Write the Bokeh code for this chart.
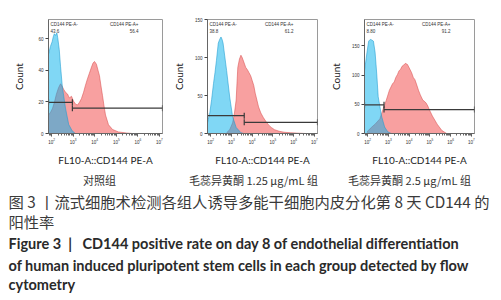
import numpy as np
from bokeh.plotting import figure
from bokeh.layouts import row, column
from bokeh.models import Range1d, FixedTicker, Label
from bokeh.core.properties import value
from bokeh.embed import file_html
from bokeh.resources import INLINE

# ---------------- data (x as log10 of FL10-A intensity, y = count) ----------------
# Panel 1: control group
neg1_exp = [1.85, 1.94, 2.02, 2.07, 2.12, 2.18, 2.24, 2.28, 2.35, 2.41, 2.49, 2.64, 2.79, 2.95, 3.10]
neg1_cnt = [50, 55, 58, 61, 63, 62, 63.5, 60.5, 53, 42.5, 30, 16, 5.7, 1.7, 0]
pos1_exp = [1.85, 1.95, 2.04, 2.13, 2.22, 2.32, 2.41, 2.48, 2.55, 2.64, 2.73, 2.82, 2.92, 3.01, 3.11, 3.20, 3.29,
            3.38, 3.48, 3.57, 3.66, 3.75, 3.85, 3.92, 3.99, 4.08, 4.15, 4.22, 4.29, 4.36, 4.43, 4.50, 4.64, 4.83,
            5.10, 5.48, 5.76]
pos1_cnt = [11.7, 13.5, 16, 20, 25, 29, 31.4, 30, 28, 26, 25, 22.5, 23.5, 20.5, 18.5, 18, 19.7,
            22, 26, 30.5, 34.5, 38, 42, 44.5, 45.5, 43.7, 40, 36.5, 30, 24, 17.5, 11.7, 5.5, 2.5,
            1, 0.3, 0]
gate1_exp, gate1_neg_y, gate1_pos_y = 2.96, 19.7, 16
pct1 = ("43.6", "56.4")

# Panel 2: calycosin 1.25 ug/mL
neg2_exp = [1.85, 1.96, 2.05, 2.14, 2.21, 2.28, 2.37, 2.44, 2.50, 2.55, 2.60, 2.68, 2.77, 2.92, 3.06, 3.23, 3.46, 3.60]
neg2_cnt = [14, 27, 45, 66, 80, 96, 119, 124, 127, 124, 119, 102, 83, 48, 22, 8, 1, 0]
pos2_exp = [2.77, 2.92, 3.06, 3.15, 3.23, 3.31, 3.39, 3.46, 3.52, 3.60, 3.69, 3.77, 3.85, 3.93, 4.00, 4.08,
            4.15, 4.23, 4.31, 4.42, 4.54, 4.66, 4.77, 4.92, 5.08, 5.30, 5.54, 5.85, 6.15, 6.61]
pos2_cnt = [1, 5, 14, 27, 44, 87, 98, 103, 100, 94, 87, 84, 80, 76, 70, 63,
            53, 44, 35, 27, 21, 16, 12, 8, 5, 3, 1.7, 1, 0.5, 0]
gate2_exp, gate2_neg_y, gate2_pos_y = 3.62, 23.5, 14.7
pct2 = ("38.8", "61.2")

# Panel 3: calycosin 2.5 ug/mL
neg3_exp = [1.85, 1.97, 2.05, 2.13, 2.20, 2.28, 2.36, 2.44, 2.51, 2.67, 2.82, 2.97, 3.14]
neg3_cnt = [107, 139, 158, 161, 160, 158, 139, 102, 63, 30, 11, 3, 0]
pos3_exp = [1.97, 2.20, 2.36, 2.59, 2.74, 2.90, 3.05, 3.20, 3.28, 3.36, 3.44, 3.51, 3.59, 3.66, 3.74, 3.82,
            3.92, 4.05, 4.12, 4.20, 4.28, 4.35, 4.45, 4.54, 4.66, 4.74, 4.82, 4.90, 4.97, 5.12, 5.35, 5.58, 5.81]
pos3_cnt = [3, 11, 16, 25, 41, 57, 74, 85, 88, 96, 101, 107, 110, 115, 117, 120,
            118, 109, 104, 96, 92, 85, 74, 66, 57, 55, 52, 47, 41, 30, 16, 5, 0]
gate3_exp, gate3_neg_y, gate3_pos_y = 2.79, 49, 41
pct3 = ("8.80", "91.2")

y_max = [72, 150, 195]
y_ticks = [[0, 20, 40, 60], [0, 50, 100, 150], [0, 50, 100, 150]]

group_labels = ["对照组", "毛蕊异黄酮 1.25 μg/mL 组", "毛蕊异黄酮 2.5 μg/mL 组"]
x_title = "FL10-A::CD144 PE-A"
neg_gate_name = "CD144 PE-A-"
pos_gate_name = "CD144 PE-A+"

NB = "\u00a0"
caption_cn = ["图 3 丨流式细胞术检测各组人诱导多能干细胞内皮分化第 8 天 CD144 的", "阳性率"]
caption_en = ["Figure 3" + NB * 2 + "|" + NB * 2 + " CD144 positive rate on day 8 of endothelial differentiation",
              "of human induced pluripotent stem cells in each group detected by flow",
              "cytometry"]

X_LO, X_HI = 1.85, 7.15
PAD = 8          # page offset (the page itself has no margin)
H = 160 + PAD
RED = "#f14141"
BLUE = "#01afeb"
GATE = "#3a3a3a"


def hist_fig(width, bl, br, bt, fh, ymax, yticks, neg_exp, neg_cnt, pos_exp, pos_cnt,
             gate_exp, gneg_y, gpos_y, pct, ylab_standoff):
    p = figure(width=width, height=H, x_axis_type="log",
               x_range=Range1d(10 ** X_LO, 10 ** X_HI), y_range=Range1d(0, ymax),
               output_backend="svg", toolbar_location=None,
               min_border_left=bl, min_border_right=br, min_border_top=bt,
               min_border_bottom=H - bt - fh)
    p.grid.visible = False
    p.outline_line_color = "#9a9a9a"
    p.background_fill_color = "white"
    p.border_fill_color = "white"

    px = 10 ** np.array(pos_exp)
    nx = 10 ** np.array(neg_exp)
    p.varea(x=px, y1=0, y2=pos_cnt, fill_color=RED, fill_alpha=0.5)
    p.line(px, pos_cnt, line_color="#d95050", line_width=0.8, line_alpha=0.7)
    p.varea(x=nx, y1=0, y2=neg_cnt, fill_color=BLUE, fill_alpha=0.5)
    p.line(nx, neg_cnt, line_color="#1e9cd0", line_width=0.8, line_alpha=0.7)

    # gates
    g = 10 ** gate_exp
    x0s = [10 ** X_LO, g]
    x1s = [g, 10 ** X_HI]
    ys = [gneg_y, gpos_y]
    p.segment(x0=x0s, y0=ys, x1=x1s, y1=ys, line_color=GATE, line_width=1.3)
    p.scatter(x=x0s + x1s, y=ys + ys, marker="dash", angle=np.pi / 2, size=6,
              line_color=GATE, line_width=1.2)

    # gate names and percentages
    fs = "4.5px"
    for txt, yo in [(neg_gate_name, -5), (pct[0], -11)]:
        p.add_layout(Label(x=10 ** X_LO, y=ymax, x_offset=2, y_offset=yo, text=txt,
                           text_font_size=fs, text_baseline="middle", text_align="left",
                           text_color="#333333", text_font="Liberation Sans"))
    for txt, yo in [(pos_gate_name, -5), (pct[1], -11)]:
        p.add_layout(Label(x=10 ** X_HI, y=ymax, x_offset=-24, y_offset=yo, text=txt,
                           text_font_size=fs, text_baseline="middle", text_align="right",
                           text_color="#333333", text_font="Liberation Sans"))

    # axes
    p.yaxis.ticker = FixedTicker(ticks=yticks, minor_ticks=[])
    p.yaxis.major_label_text_font_size = "4.5px"
    p.yaxis.major_label_text_color = "#333333"
    p.yaxis.axis_label = "Count"
    p.yaxis.axis_label_text_font = "Lato"
    p.yaxis.axis_label_text_font_style = "normal"
    p.yaxis.axis_label_text_font_size = "10px"
    p.yaxis.axis_label_text_color = "#222222"
    p.yaxis.axis_label_standoff = ylab_standoff
    p.yaxis.major_label_standoff = 2

    p.xaxis.axis_label = x_title
    p.xaxis.axis_label_text_font = "Lato"
    p.xaxis.axis_label_text_font_style = "normal"
    p.xaxis.axis_label_text_font_size = "10px"
    p.xaxis.axis_label_text_color = "#222222"
    p.xaxis.axis_label_standoff = 7
    p.xaxis.major_label_text_font_size = "4.5px"
    p.xaxis.major_label_text_color = "#333333"
    p.xaxis.major_label_standoff = 1

    for ax in (p.xaxis[0], p.yaxis[0]):
        ax.axis_line_color = "#666666"
        ax.major_tick_line_color = "#444444"
        ax.minor_tick_line_color = "#666666"
        ax.major_tick_out = 3
        ax.major_tick_in = 0
        ax.minor_tick_out = 2
        ax.minor_tick_in = 0
    return p


f1 = hist_fig(161 + PAD, 40 + PAD, 7, 11 + PAD, 117, y_max[0], y_ticks[0], neg1_exp, neg1_cnt, pos1_exp, pos1_cnt,
              gate1_exp, gate1_neg_y, gate1_pos_y, pct1, 10)
f2 = hist_fig(157, 33, 9, 11 + PAD, 115, y_max[1], y_ticks[1], neg2_exp, neg2_cnt, pos2_exp, pos2_cnt,
              gate2_exp, gate2_neg_y, gate2_pos_y, pct2, 7)
f3 = hist_fig(167, 33, 19, 8 + PAD, 119, y_max[2], y_ticks[2], neg3_exp, neg3_cnt, pos3_exp, pos3_cnt,
              gate3_exp, gate3_neg_y, gate3_pos_y, pct3, 7)

# caption figure (pixel coordinates, y downward)
CW, CH = 500, 131
cap = figure(width=CW, height=CH, x_range=Range1d(0, CW), y_range=Range1d(CH, 0),
             x_axis_location=None, y_axis_location=None, output_backend="svg",
             toolbar_location=None, min_border=0, outline_line_color=None)
cap.grid.visible = False

for txt, cx in zip(group_labels, [99, 253, 409]):
    cap.add_layout(Label(x=cx, y=11, text=txt, text_align="center", text_baseline="middle",
                         text_font="Noto Sans CJK SC", text_font_size="11px", text_color="#333333"))
for txt, cy in zip(caption_cn, [32.5, 52.5]):
    cap.add_layout(Label(x=PAD, y=cy, text=txt, text_align="left", text_baseline="middle",
                         text_font="Noto Sans CJK SC", text_font_size="15.3px", text_color="#3a3a3a"))
for txt, cy in zip(caption_en, [74.5, 96.5, 116]):
    cap.add_layout(Label(x=PAD, y=cy, text=txt, text_align="left", text_baseline="middle",
                         text_font="Lato", text_font_style="bold", text_font_size="14.5px",
                         text_color="#2a2a2a"))

layout = column(row(f1, f2, f3, spacing=0), cap, spacing=0)
open("out.html", "w").write(file_html(layout, INLINE))
